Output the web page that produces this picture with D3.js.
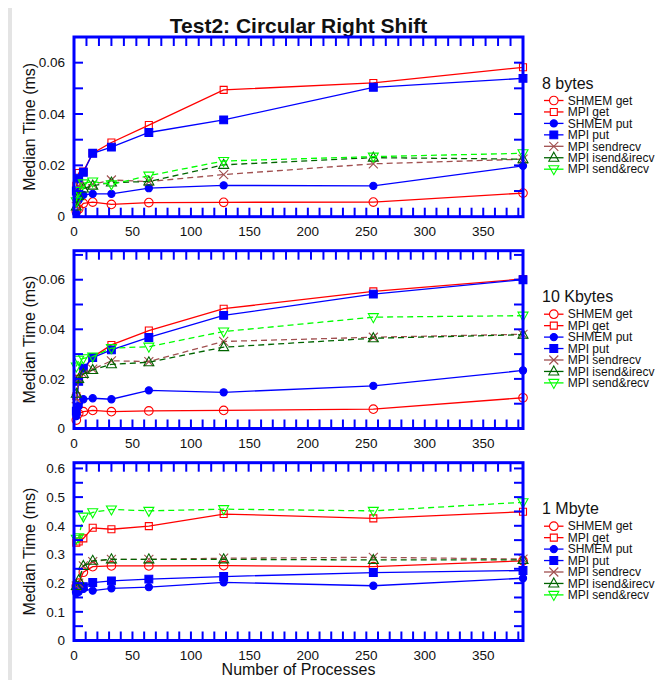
<!DOCTYPE html>
<html>
<head>
<meta charset="utf-8">
<title>Test2: Circular Right Shift</title>
<script src="https://cdn.jsdelivr.net/npm/d3@7"></script>
<style>
  body { margin: 0; background: #fff; }
  svg text { font-family: "Liberation Sans", Arial, sans-serif; fill: #111; }
</style>
</head>
<body>
<svg id="chart" width="670" height="680"></svg>
<script>
// process counts (x values shared by all series)
var procs = [2, 4, 8, 16, 32, 64, 128, 256, 384];

var seriesNames = ['SHMEM get', 'MPI get', 'SHMEM put', 'MPI put', 'MPI sendrecv', 'MPI isend&irecv', 'MPI send&recv'];
var panelTitles = ['8 bytes', '10 Kbytes', '1 Mbyte'];

// 8 bytes
var shmemGet8B   = [0.002, 0.003, 0.0052, 0.0057, 0.0048, 0.0055, 0.0056, 0.0057, 0.0092];
var mpiGet8B     = [0.012, 0.017, 0.0176, 0.0247, 0.0289, 0.0357, 0.0494, 0.0521, 0.0582];
var shmemPut8B   = [0.0012, 0.0065, 0.0085, 0.0089, 0.0089, 0.0111, 0.0122, 0.012, 0.0198];
var mpiPut8B     = [0.010, 0.015, 0.0173, 0.0247, 0.0271, 0.0328, 0.0377, 0.0504, 0.0539];
var sendrecv8B   = [0.004, 0.012, 0.0121, 0.0126, 0.0143, 0.0137, 0.0164, 0.0206, 0.0224];
var isendIrecv8B = [0.004, 0.008, 0.011, 0.0121, 0.0133, 0.0137, 0.0202, 0.023, 0.0224];
var sendRecv8B   = [0.006, 0.010, 0.013, 0.0137, 0.0126, 0.016, 0.0217, 0.0234, 0.0247];

// 10 Kbytes
var shmemGet10K   = [0.0034, 0.006, 0.0068, 0.0073, 0.0068, 0.0071, 0.0073, 0.0078, 0.0124];
var mpiGet10K     = [0.013, 0.020, 0.0236, 0.0288, 0.0337, 0.0395, 0.0483, 0.0553, 0.0603];
var shmemPut10K   = [0.005, 0.009, 0.0118, 0.0122, 0.0118, 0.0154, 0.0146, 0.0172, 0.0234];
var mpiPut10K     = [0.007, 0.019, 0.0243, 0.0286, 0.0317, 0.0367, 0.0456, 0.0542, 0.060];
var sendrecv10K   = [0.012, 0.020, 0.0219, 0.0239, 0.0273, 0.027, 0.0351, 0.0368, 0.038];
var isendIrecv10K = [0.014, 0.020, 0.022, 0.0236, 0.0259, 0.0267, 0.0328, 0.0364, 0.0378];
var sendRecv10K   = [0.025, 0.0277, 0.0283, 0.029, 0.0324, 0.033, 0.0391, 0.0449, 0.0455];

// 1 Mbyte
var shmemGet1M   = [0.19, 0.20, 0.238, 0.2576, 0.26, 0.26, 0.261, 0.2576, 0.278];
var mpiGet1M     = [0.341, 0.345, 0.356, 0.393, 0.388, 0.399, 0.441, 0.426, 0.449];
var shmemPut1M   = [0.165, 0.17, 0.18, 0.174, 0.182, 0.186, 0.203, 0.191, 0.217];
var mpiPut1M     = [0.18, 0.185, 0.188, 0.202, 0.208, 0.214, 0.223, 0.237, 0.244];
var sendrecv1M   = [0.19, 0.20, 0.26, 0.275, 0.283, 0.283, 0.287, 0.29, 0.284];
var isendIrecv1M = [0.19, 0.21, 0.26, 0.278, 0.283, 0.283, 0.283, 0.281, 0.281];
var sendRecv1M   = [0.355, 0.36, 0.432, 0.447, 0.457, 0.452, 0.458, 0.452, 0.482];

// y axis: label values and tick values per panel
var yMax = [0.070, 0.0717, 0.62];
var yLabels = [[0, 0.02, 0.04, 0.06], [0, 0.02, 0.04, 0.06], [0, 0.1, 0.2, 0.3, 0.4, 0.5, 0.6]];
var yTicks = [d3.range(0, 0.0701, 0.01), d3.range(0, 0.0701, 0.01), d3.range(0, 0.601, 0.05)];
var xLabels = [0, 50, 100, 150, 200, 250, 300, 350];

var panelData = [
  [shmemGet8B, mpiGet8B, shmemPut8B, mpiPut8B, sendrecv8B, isendIrecv8B, sendRecv8B],
  [shmemGet10K, mpiGet10K, shmemPut10K, mpiPut10K, sendrecv10K, isendIrecv10K, sendRecv10K],
  [shmemGet1M, mpiGet1M, shmemPut1M, mpiPut1M, sendrecv1M, isendIrecv1M, sendRecv1M]
];

// look of each series
var styles = [
  {color: '#ff0000', marker: 'circle', fill: false, dash: null},
  {color: '#ff0000', marker: 'square', fill: false, dash: null},
  {color: '#0000ff', marker: 'circle', fill: true, dash: null},
  {color: '#0000ff', marker: 'square', fill: true, dash: null},
  {color: '#a04f4f', marker: 'x', fill: false, dash: '6,4'},
  {color: '#006400', marker: 'tri', fill: false, dash: '6,4'},
  {color: '#00ff00', marker: 'itri', fill: false, dash: '6,4'}
];

function markerPath(type, filled) {
  if (type === 'circle') {
    var r = filled ? 3.6 : 4.3;
    return 'M' + (-r) + ',0A' + r + ',' + r + ' 0 1,0 ' + r + ',0A' + r + ',' + r + ' 0 1,0 ' + (-r) + ',0Z';
  }
  if (type === 'square') {
    var h = filled ? 3.9 : 3.5;
    return 'M' + (-h) + ',' + (-h) + 'H' + h + 'V' + h + 'H' + (-h) + 'Z';
  }
  if (type === 'x') return 'M-4.5,-4.5L4.5,4.5M-4.5,4.5L4.5,-4.5';
  if (type === 'tri') return 'M0,-5.5L5,3.5L-5,3.5Z';
  return 'M0,5.5L5,-3.5L-5,-3.5Z';
}

var svg = d3.select('#chart');
var left = 74, right = 523;
var tops = [37, 250.7, 462.7], bottoms = [216.7, 428.5, 640.5];

// grey strip at the far left
svg.append('rect')
  .attr('x', 8).attr('y', 8).attr('width', 4).attr('height', 672)
  .attr('fill', '#e4e4e4');

svg.append('text')
  .attr('x', (left + right) / 2).attr('y', 33)
  .attr('text-anchor', 'middle')
  .style('font-size', '21px').style('font-weight', 'bold')
  .text('Test2: Circular Right Shift');

var x = d3.scaleLinear().domain([0, 384]).range([left, right]);

panelData.forEach(function(series, p) {
  var top = tops[p], bottom = bottoms[p];
  var y = d3.scaleLinear().domain([0, yMax[p]]).range([bottom, top]);
  var g = svg.append('g');

  var line = d3.line()
    .x(function(d, i) { return x(procs[i]); })
    .y(function(d) { return y(d); });

  // draw order: later series on top like the original
  series.forEach(function(vals, s) {
    var st = styles[s];
    g.append('path')
      .attr('d', line(vals))
      .attr('fill', 'none')
      .attr('stroke', st.color)
      .attr('stroke-width', 1.3)
      .attr('stroke-dasharray', st.dash);
    g.selectAll(null)
      .data(vals)
      .enter()
      .append('path')
      .attr('transform', function(d, i) { return 'translate(' + x(procs[i]) + ',' + y(d) + ')'; })
      .attr('d', markerPath(st.marker, st.fill))
      .attr('fill', st.fill ? st.color : 'none')
      .attr('stroke', st.color)
      .attr('stroke-width', 1.1);
  });

  // frame with inward ticks on all sides
  var axisColor = '#0000ff';
  var tl = 9;
  yTicks[p].forEach(function(v) {
    g.append('line').attr('x1', left).attr('x2', left + tl).attr('y1', y(v)).attr('y2', y(v))
      .attr('stroke', axisColor).attr('stroke-width', 2);
    g.append('line').attr('x1', right).attr('x2', right - tl).attr('y1', y(v)).attr('y2', y(v))
      .attr('stroke', axisColor).attr('stroke-width', 2);
  });
  d3.range(0, 384.1, 10).forEach(function(v) {
    g.append('line').attr('x1', x(v)).attr('x2', x(v)).attr('y1', bottom).attr('y2', bottom - tl)
      .attr('stroke', axisColor).attr('stroke-width', 2);
  });
  d3.range(0, 36.1).forEach(function(k) {
    var v = k * 384 / 36;
    g.append('line').attr('x1', x(v)).attr('x2', x(v)).attr('y1', top).attr('y2', top + tl)
      .attr('stroke', axisColor).attr('stroke-width', 2);
  });
  g.append('rect')
    .attr('x', left).attr('y', top).attr('width', right - left).attr('height', bottom - top)
    .attr('fill', 'none').attr('stroke', axisColor).attr('stroke-width', 3);

  // tick labels
  g.selectAll(null).data(yLabels[p]).enter().append('text')
    .attr('x', left - 9).attr('y', function(d) { return y(d); })
    .attr('dy', '0.35em').attr('text-anchor', 'end')
    .style('font-size', '13.5px')
    .text(function(d) { return d === 0 ? '0' : (p === 2 ? d3.format('.1f')(d) : d3.format('.2f')(d)); });
  g.selectAll(null).data(xLabels).enter().append('text')
    .attr('x', function(d) { return x(d); }).attr('y', bottom + 19)
    .attr('text-anchor', 'middle')
    .style('font-size', '13.5px')
    .text(function(d) { return d; });

  g.append('text')
    .attr('transform', 'translate(35,' + (top + bottom) / 2 + ') rotate(-90)')
    .attr('text-anchor', 'middle')
    .style('font-size', '16px')
    .text('Median Time (ms)');

  // legend
  var lg = g.append('g');
  lg.append('text')
    .attr('x', 542).attr('y', top + 46).attr('dy', '0.35em')
    .style('font-size', '16px')
    .text(panelTitles[p]);
  seriesNames.forEach(function(name, s) {
    var st = styles[s];
    var ly = top + 63.5 + s * 11.45;
    lg.append('line')
      .attr('x1', 544).attr('x2', 563.5).attr('y1', ly).attr('y2', ly)
      .attr('stroke', st.color).attr('stroke-width', 1.3);
    lg.append('path')
      .attr('transform', 'translate(553.8,' + ly + ')')
      .attr('d', markerPath(st.marker, st.fill))
      .attr('fill', st.fill ? st.color : (st.marker === 'circle' || st.marker === 'square' ? '#fff' : 'none'))
      .attr('stroke', st.color).attr('stroke-width', 1.1);
    lg.append('text')
      .attr('x', 567.7).attr('y', ly).attr('dy', '0.35em')
      .style('font-size', '12px')
      .text(name);
  });
});

svg.append('text')
  .attr('x', (left + right) / 2).attr('y', 675)
  .attr('text-anchor', 'middle')
  .style('font-size', '16px')
  .text('Number of Processes');
</script>
</body>
</html>
